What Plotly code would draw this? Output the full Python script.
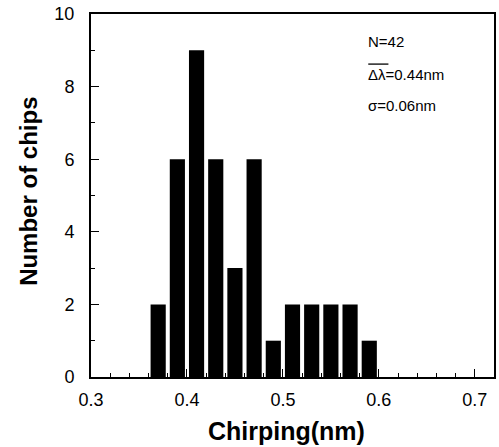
import plotly.graph_objects as go

bin_centers = [0.37, 0.39, 0.41, 0.43, 0.45, 0.47, 0.49, 0.51, 0.53, 0.55, 0.57, 0.59]
counts = [2, 6, 9, 6, 3, 6, 1, 2, 2, 2, 2, 1]
x_ticks = [0.3, 0.4, 0.5, 0.6, 0.7]
y_ticks = [0, 2, 4, 6, 8, 10]
stats_lines = ["N=42", "Δλ=0.44nm", "σ=0.06nm"]

FONT = "Liberation Sans, Arial, Helvetica, sans-serif"

fig = go.Figure()
fig.add_trace(go.Bar(x=bin_centers, y=counts, width=0.0158,
                     marker=dict(color="black", line=dict(width=0))))

fig.update_layout(
    width=499, height=447,
    margin=dict(l=91, r=5, t=14, b=70, autoexpand=False),
    paper_bgcolor="white", plot_bgcolor="white",
    showlegend=False,
    font=dict(family=FONT, color="black"),
    xaxis=dict(range=[0.3, 0.72], tickvals=x_ticks, ticktext=[f"{v:.1f}" for v in x_ticks],
               ticks="inside", ticklen=8, tickwidth=1, tickcolor="black",
               minor=dict(dtick=0.02, tick0=0.3, ticks="inside", ticklen=4, tickcolor="black", showgrid=False),
               showline=True, linecolor="black", linewidth=2, mirror=True, automargin=False,
               showgrid=False, zeroline=False, ticklabeloverflow="allow",
               tickfont=dict(size=18, family=FONT), ticklabelstandoff=5),
    yaxis=dict(range=[0, 10], tickvals=y_ticks,
               ticks="inside", ticklen=8, tickwidth=1, tickcolor="black",
               minor=dict(dtick=1, ticks="inside", ticklen=4, tickcolor="black", showgrid=False),
               showline=True, linecolor="black", linewidth=2, mirror=True, automargin=False,
               showgrid=False, zeroline=False, ticklabeloverflow="allow",
               tickfont=dict(size=18, family=FONT), ticklabelstandoff=11),
)

# axis titles
fig.add_annotation(text="<b>Chirping(nm)</b>", xref="paper", yref="paper", x=0.486, y=0,
                   yshift=-54, showarrow=False, font=dict(size=25, family=FONT),
                   xanchor="center", yanchor="middle")
fig.add_annotation(text="<b>Number of chips</b>", xref="paper", yref="paper", x=0, y=0.51,
                   xshift=-62, textangle=-90, showarrow=False, font=dict(size=24, family=FONT),
                   xanchor="center", yanchor="middle")

# stats text
ys = [0.923, 0.834, 0.749]
for txt, yy in zip(stats_lines, ys):
    fig.add_annotation(text=txt, xref="paper", yref="paper", x=0.683, y=yy,
                       showarrow=False, font=dict(size=15, family=FONT),
                       xanchor="left", yanchor="middle")
# overline over Δλ
fig.add_shape(type="line", xref="paper", yref="paper", x0=0.688, x1=0.738, y0=0.862, y1=0.862,
              line=dict(color="black", width=1.3))

fig.write_html("out.html", config={"displayModeBar": False},
               post_script="document.body.style.margin='0';")
